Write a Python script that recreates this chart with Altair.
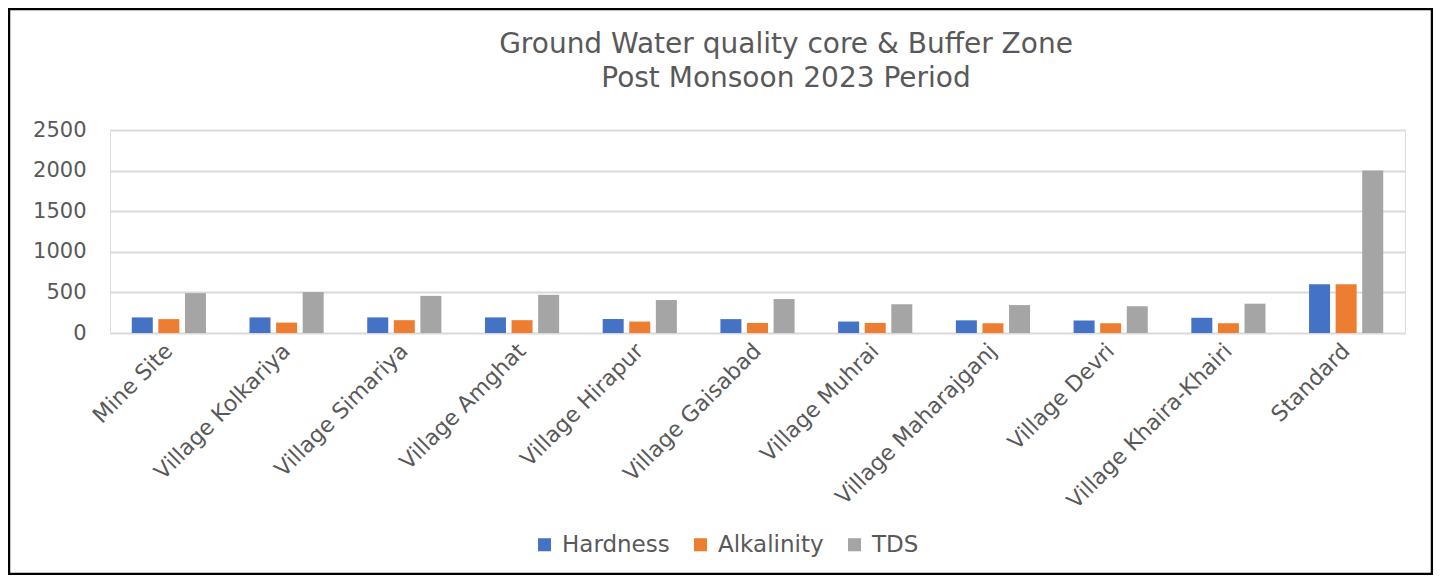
import altair as alt
import pandas as pd

categories = ["Mine Site", "Village Kolkariya", "Village Simariya", "Village Amghat",
              "Village Hirapur", "Village Gaisabad", "Village Muhrai", "Village Maharajganj",
              "Village Devri", "Village Khaira-Khairi", "Standard"]
hardness = [192, 192, 192, 192, 171, 171, 141, 156, 154, 187, 600]
alkalinity = [171, 128, 158, 158, 141, 124, 124, 120, 120, 120, 600]
tds = [491, 504, 457, 470, 406, 418, 354, 344, 328, 361, 2000]
series = ["Hardness", "Alkalinity", "TDS"]
colors = ["#4472C4", "#ED7D31", "#A5A5A5"]
y_ticks = [0, 500, 1000, 1500, 2000, 2500]
title_lines = ["Ground Water quality core & Buffer Zone", "Post Monsoon 2023 Period"]

rows = []
for i, c in enumerate(categories):
    for s, vals in zip(series, [hardness, alkalinity, tds]):
        rows.append({"Location": c, "Parameter": s, "Value": vals[i]})
df = pd.DataFrame(rows)

FONT = "DejaVu Sans"
GREY = "#595959"
W, H = 1295, 203

bars = alt.Chart(df).mark_bar().encode(
    x=alt.X("Location:N", sort=categories, title=None,
            scale=alt.Scale(paddingInner=0.37, paddingOuter=0.185),
            axis=alt.Axis(labelAngle=-45, labelAlign="right", labelBaseline="middle",
                          labelPadding=14, ticks=False, domain=False, labelLimit=0,
                          labelFontSize=22, labelColor=GREY, labelFont=FONT)),
    xOffset=alt.XOffset("Parameter:N", sort=series,
                        scale=alt.Scale(paddingInner=0.21, paddingOuter=0)),
    y=alt.Y("Value:Q", title=None,
            scale=alt.Scale(domain=[0, 2500], nice=False),
            axis=alt.Axis(values=y_ticks, format="d", ticks=False, domain=False,
                          labelPadding=24, gridColor="#D9D9D9", gridWidth=2,
                          labelFontSize=21, labelColor=GREY, labelFont=FONT)),
    color=alt.Color("Parameter:N", sort=series,
                    scale=alt.Scale(domain=series, range=colors),
                    legend=alt.Legend(title=None, orient="none", direction="horizontal",
                                      legendX=423, legendY=403,
                                      symbolType="square", symbolSize=170,
                                      symbolStrokeWidth=0, labelFontSize=23,
                                      labelColor=GREY, labelFont=FONT,
                                      columnPadding=19, labelOffset=6)),
)

frame = alt.Chart(pd.DataFrame({"a": [0]})).mark_rect(
    fill=None, stroke="black", strokeWidth=2.5
).encode(
    x=alt.value(-101), x2=alt.value(1322),
    y=alt.value(-121), y2=alt.value(444),
)

title1 = alt.Chart(pd.DataFrame({"a": [0]})).mark_text(
    font=FONT, fontSize=28, color=GREY, align="center", baseline="middle"
).encode(x=alt.value(676), y=alt.value(-85), text=alt.value(title_lines[0]))

title2 = alt.Chart(pd.DataFrame({"a": [0]})).mark_text(
    font=FONT, fontSize=28, color=GREY, align="center", baseline="middle"
).encode(x=alt.value(676), y=alt.value(-51), text=alt.value(title_lines[1]))

chart = alt.layer(bars, frame, title1, title2).properties(
    width=W, height=H,
    autosize=alt.AutoSizeParams(type="none"),
    padding={"left": 102, "top": 122, "right": 28, "bottom": 242},
).configure_view(stroke=None).configure(background="white")

chart.save("out.html", embed_options={"renderer": "svg", "actions": False})
